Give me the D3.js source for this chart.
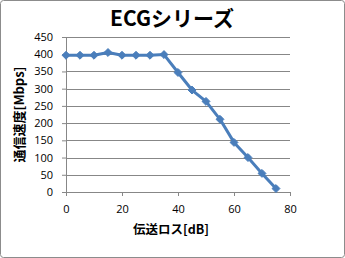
<!DOCTYPE html>
<html lang="ja">
<head>
	<meta charset="utf-8">
	<title>ECGシリーズ</title>
	<script src="https://cdn.jsdelivr.net/npm/d3@7"></script>
	<style>
		body { margin: 0; background: #fff; }
		text { font-family: "Noto Sans CJK JP", "DejaVu Sans", sans-serif; }
	</style>
</head>
<body>
<script>
	// Data
	var lossDb = [0, 5, 10, 15, 20, 25, 30, 35, 40, 45, 50, 55, 60, 65, 70, 75];
	var speedMbps = [397, 397, 397, 405, 397, 397, 397, 399, 347, 296, 263, 211, 144, 100, 54, 10];
	var xTicks = [0, 20, 40, 60, 80];
	var yTicks = [0, 50, 100, 150, 200, 250, 300, 350, 400, 450];

	var width = 345, height = 258;
	var margin = {top: 37, right: 55, bottom: 66, left: 66};
	var w = width - margin.left - margin.right;
	var h = height - margin.top - margin.bottom;

	var svg = d3.select("body").append("svg")
		.attr("width", width)
		.attr("height", height);

	// chart border
	svg.append("rect")
		.attr("x", 0.5).attr("y", 0.5)
		.attr("width", width - 1).attr("height", height - 1)
		.attr("rx", 3)
		.attr("fill", "#fff")
		.attr("stroke", "#8c8c8c");

	var g = svg.append("g")
		.attr("transform", "translate(" + margin.left + "," + margin.top + ")");

	var xScale = d3.scaleLinear().domain([0, 80]).range([0, w]);
	var yScale = d3.scaleLinear().domain([0, 450]).range([h, 0]);

	// gridlines
	g.selectAll(".grid")
		.data(yTicks.filter(function(d) { return d > 0; }))
		.enter().append("line")
		.attr("x1", 0).attr("x2", w)
		.attr("y1", function(d) { return Math.round(yScale(d)) + 0.5; })
		.attr("y2", function(d) { return Math.round(yScale(d)) + 0.5; })
		.attr("stroke", "#878787");

	// axes
	var xAxis = d3.axisBottom(xScale).tickValues(xTicks).tickSize(4).tickPadding(9);
	var yAxis = d3.axisLeft(yScale).tickValues(yTicks).tickSize(4).tickPadding(9);

	var gx = g.append("g")
		.attr("transform", "translate(0," + h + ")")
		.call(xAxis);
	var gy = g.append("g").call(yAxis);

	[gx, gy].forEach(function(a) {
		a.select(".domain").attr("stroke", "#878787");
		a.selectAll(".tick line").attr("stroke", "#878787");
		a.selectAll(".tick text")
			.attr("fill", "#000")
			.style("font-size", "11px")
			.style("font-family", "'Open Sans', 'DejaVu Sans', sans-serif");
	});

	// series line
	var line = d3.line()
		.x(function(d, i) { return xScale(lossDb[i]); })
		.y(function(d) { return yScale(d); });

	g.append("path")
		.datum(speedMbps)
		.attr("d", line)
		.attr("fill", "none")
		.attr("stroke", "#4a7ebb")
		.attr("stroke-width", 3)
		.attr("stroke-linejoin", "round");

	// diamond markers
	g.selectAll(".pt")
		.data(speedMbps)
		.enter().append("path")
		.attr("d", d3.symbol().type(d3.symbolDiamond2).size(40))
		.attr("transform", function(d, i) {
			return "translate(" + xScale(lossDb[i]) + "," + yScale(d) + ")";
		})
		.attr("fill", "#4a7ebb")
		.attr("stroke", "#4a7ebb");

	// title
	svg.append("text")
		.attr("x", 172).attr("y", 26)
		.attr("text-anchor", "middle")
		.style("font-size", "21px")
		.style("font-weight", "bold")
		.text("ECGシリーズ");

	// axis titles
	svg.append("text")
		.attr("x", 171).attr("y", 234)
		.attr("text-anchor", "middle")
		.style("font-size", "12.5px")
		.style("font-weight", "bold")
		.text("伝送ロス[dB]");

	svg.append("text")
		.attr("transform", "translate(24," + (margin.top + h / 2) + ") rotate(-90)")
		.attr("text-anchor", "middle")
		.style("font-size", "13px")
		.style("font-weight", "bold")
		.text("通信速度[Mbps]");
</script>
</body>
</html>
